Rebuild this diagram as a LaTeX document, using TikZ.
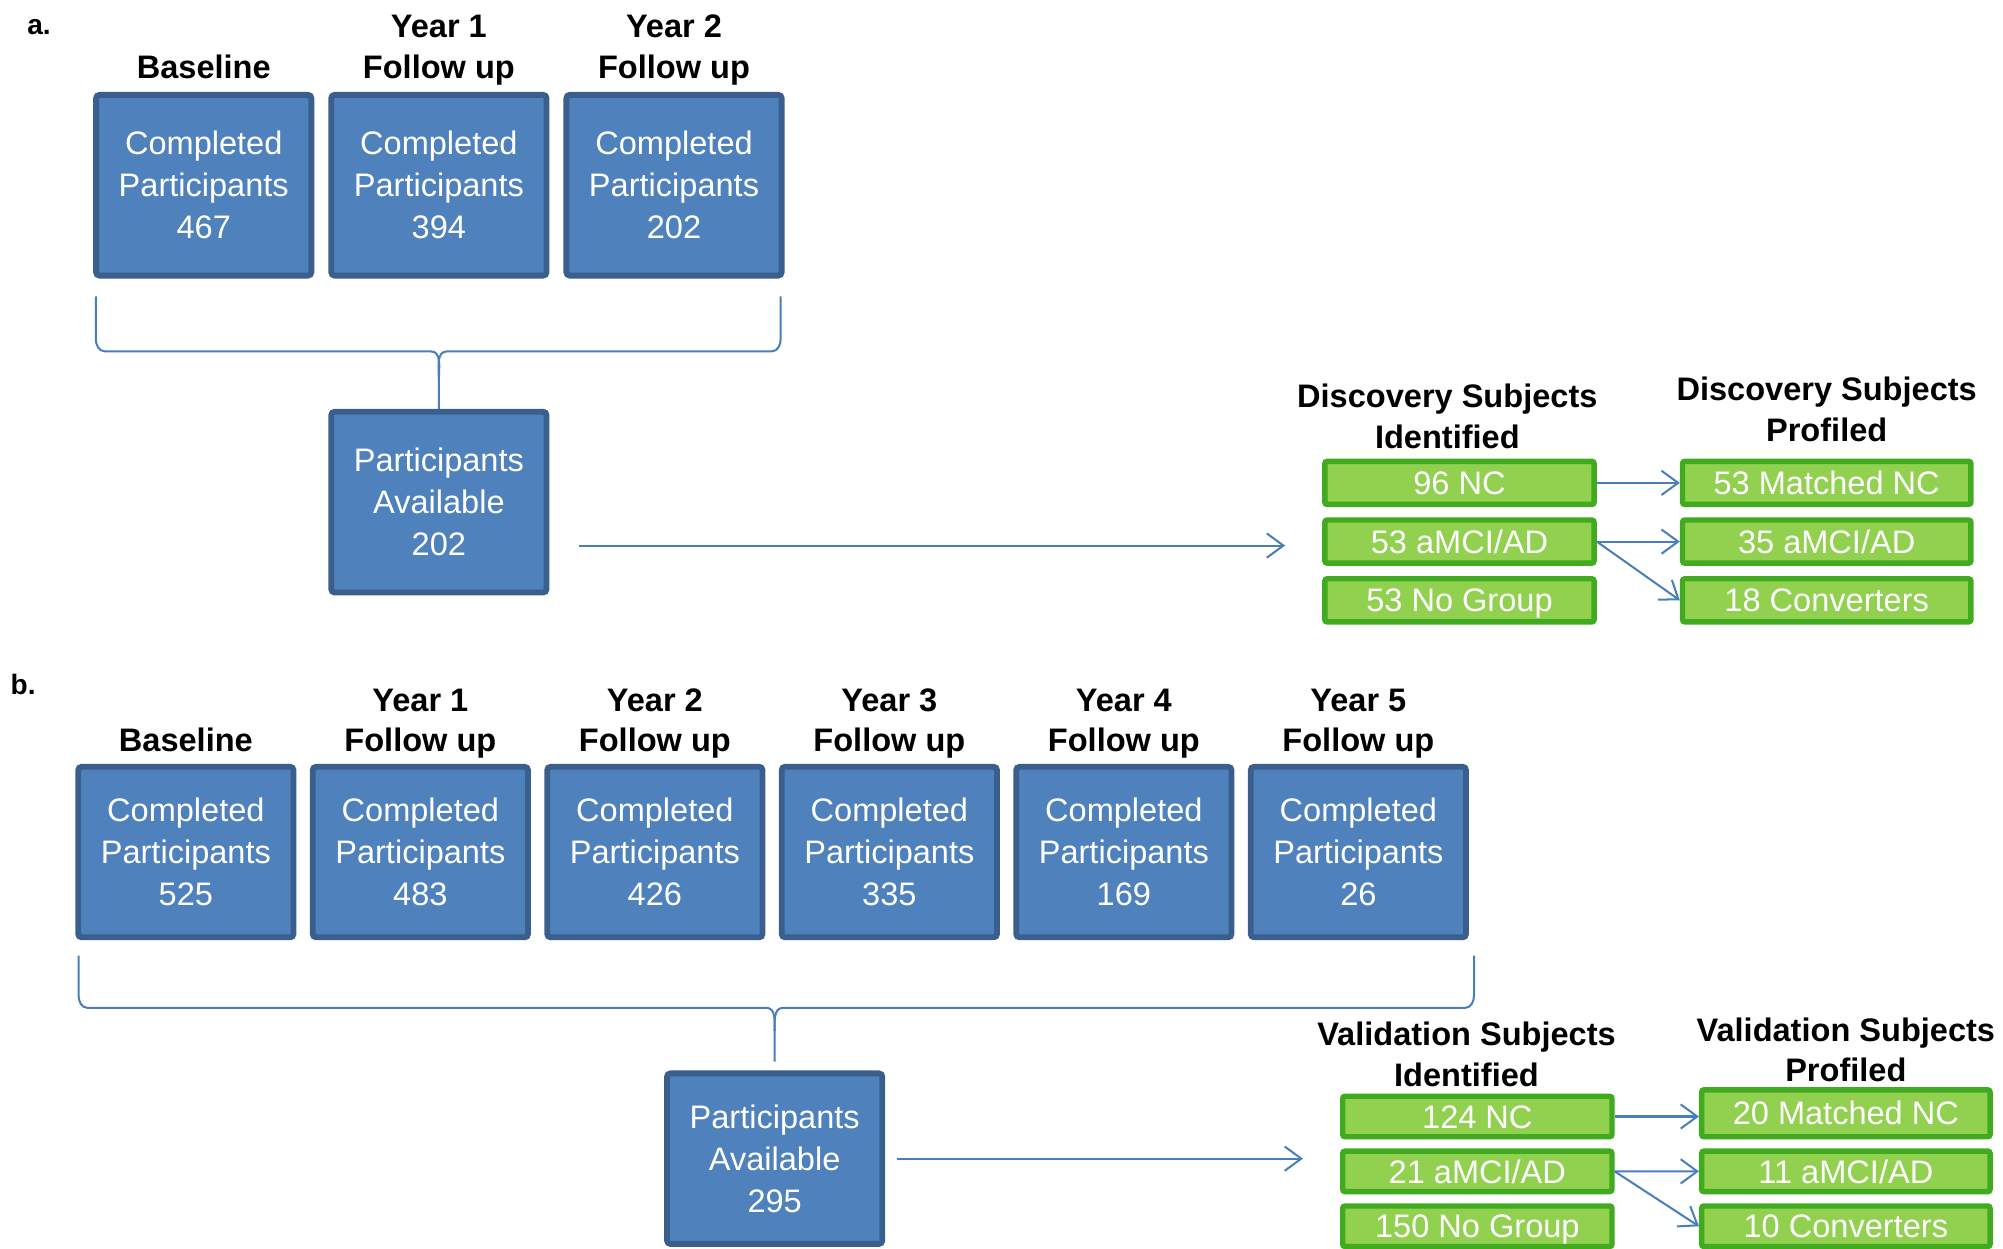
\documentclass[tikz,border=0pt]{standalone}
\usepackage{fontspec}
\setmainfont{Liberation Sans}
\usepackage{tikz}
\usetikzlibrary{arrows.meta}
\usetikzlibrary{calc}
\usetikzlibrary{positioning}
\usepackage{xcolor}
\definecolor{visitblue}{HTML}{4F81BD}
\definecolor{visitedge}{HTML}{3A5F8C}
\definecolor{subjgreen}{HTML}{92D050}
\definecolor{subjedge}{HTML}{40AB1E}
\definecolor{linkblue}{HTML}{4A7EBB}
\tikzset{node distance=0.22cm, every text node part/.style={align=center}}
\tikzstyle{visit} = [draw=visitedge, fill=visitblue, line width=2.6pt, rounded corners=1.5pt, text=white, inner sep=0pt, minimum width=3.37cm, minimum height=2.83cm]
\tikzstyle{subj} = [draw=subjedge, fill=subjgreen, line width=2.4pt, rounded corners=1pt, text=white, inner sep=0pt, text height=10.4pt, text depth=0pt, minimum height=0.675cm]

\begin{document}
\begin{tikzpicture}[
    font=\fontsize{14.5}{18.7}\selectfont,
    head/.style={font=\fontsize{14.5}{18}\selectfont\bfseries, inner sep=0pt, text depth=3.1pt},
    tag/.style={font=\fontsize{12.5}{15}\selectfont\bfseries, inner sep=0pt, anchor=base west},
    visitb/.style={visit, minimum height=2.67cm},
    link/.style={draw=linkblue, line width=0.9pt},
    flow/.style={link, -{Straight Barb[length=0.26cm, width=0.38cm]}}
  ]
  \useasboundingbox (0,0) rectangle (31.36,-19.54);

  % Panel a
  \node[tag] (labA) at (0.42,-0.54) {a.};

  % Define visit blocks
  \node[visit] (baseA) at (3.19,-2.90) {Completed\\Participants\\467};
  \node[visit, right=of baseA] (yearA1) {Completed\\Participants\\394};
  \node[visit, right=of yearA1] (yearA2) {Completed\\Participants\\202};

  \node[head, above=0.1cm of baseA] (headBaseA) {Baseline};
  \node[head, above=0.1cm of yearA1] (headYearA1) {Year 1\\Follow up};
  \node[head, above=0.1cm of yearA2] (headYearA2) {Year 2\\Follow up};

  % Define pooled block
  \node[visit, below=2.04cm of yearA1] (availA) {Participants\\Available\\202};

  % Define subject groups
  \node[subj, minimum width=4.215cm] (idA1) at (22.85,-7.56) {96 NC};
  \node[subj, minimum width=4.215cm, below=0.16cm of idA1] (idA2) {53 aMCI/AD};
  \node[subj, minimum width=4.215cm, below=0.16cm of idA2] (idA3) {53 No Group};
  \node[subj, minimum width=4.515cm, right=1.3cm of idA1] (prA1) {53 Matched NC};
  \node[subj, minimum width=4.515cm, below=0.16cm of prA1] (prA2) {35 aMCI/AD};
  \node[subj, minimum width=4.515cm, below=0.16cm of prA2] (prA3) {18 Converters};

  \node[head, above=0.05cm of idA1, xshift=-0.19cm] (headIdA) {Discovery Subjects\\Identified};
  \node[head, above=0.155cm of prA1] (headPrA) {Discovery Subjects\\Profiled};

  % Draw brace
  \coordinate (braceAl) at ($(baseA.south west)+(0.04,-0.28)$);
  \coordinate (braceAr) at ($(yearA2.south east)+(-0.06,-0.28)$);
  \coordinate (braceAm) at ($(availA.north)+(0,0.9)$);
  \draw[link] (braceAl) -- ($(braceAl |- braceAm)+(0,0.2)$) to[out=-90, in=180] ($(braceAl |- braceAm)+(0.14,0)$)
    -- ($(braceAm)+(-0.13,0)$) to[out=0, in=90] ($(braceAm)+(0,-0.44)$) -- (availA.north);
  \draw[link] (braceAr) -- ($(braceAr |- braceAm)+(0,0.2)$) to[out=-90, in=0] ($(braceAr |- braceAm)+(-0.14,0)$)
    -- ($(braceAm)+(0.13,0)$) to[out=180, in=90] ($(braceAm)+(0,-0.44)$);

  % Draw lines
  \coordinate (outA) at ($(availA.east)+(0,-0.68)$);
  \draw[flow, shorten <=0.46cm, shorten >=0.58cm] (outA) -- (outA -| idA2.west);
  \draw[flow] (idA1) -- (prA1);
  \draw[flow] (idA2.east) -- (prA2.west);
  \draw[flow] (idA2.east) -- (prA3.west);

  % Panel b
  \node[tag] (labB) at (0.16,-10.88) {b.};

  % Define visit blocks
  \node[visitb] (baseB) at (2.91,-13.34) {Completed\\Participants\\525};
  \node[visitb, right=0.21cm of baseB] (yearB1) {Completed\\Participants\\483};
  \node[visitb, right=0.21cm of yearB1] (yearB2) {Completed\\Participants\\426};
  \node[visitb, right=0.21cm of yearB2] (yearB3) {Completed\\Participants\\335};
  \node[visitb, right=0.21cm of yearB3] (yearB4) {Completed\\Participants\\169};
  \node[visitb, right=0.21cm of yearB4] (yearB5) {Completed\\Participants\\26};

  \node[head, above=0.07cm of baseB] (headBaseB) {Baseline};
  \node[head, above=0.07cm of yearB1] (headYearB1) {Year 1\\Follow up};
  \node[head, above=0.07cm of yearB2] (headYearB2) {Year 2\\Follow up};
  \node[head, above=0.07cm of yearB3] (headYearB3) {Year 3\\Follow up};
  \node[head, above=0.07cm of yearB4] (headYearB4) {Year 4\\Follow up};
  \node[head, above=0.07cm of yearB5] (headYearB5) {Year 5\\Follow up};

  % Define pooled block
  \node[visitb] (availB) at ($(yearB2)!0.5!(yearB3)+(0.04,-4.8)$) {Participants\\Available\\295};

  % Define subject groups
  \node[subj, minimum width=4.215cm, minimum height=0.635cm] (idB1) at (23.13,-17.48) {124 NC};
  \node[subj, minimum width=4.215cm, minimum height=0.635cm, below=0.14cm of idB1] (idB2) {21 aMCI/AD};
  \node[subj, minimum width=4.215cm, minimum height=0.635cm, below=0.14cm of idB2] (idB3) {150 No Group};
  \node[subj, minimum width=4.515cm, minimum height=0.735cm, right=1.32cm of idB1, yshift=0.05cm] (prB1) {20 Matched NC};
  \node[subj, minimum width=4.515cm, minimum height=0.635cm, below=0.14cm of prB1] (prB2) {11 aMCI/AD};
  \node[subj, minimum width=4.515cm, minimum height=0.635cm, below=0.14cm of prB2] (prB3) {10 Converters};

  \node[head, above=0cm of idB1, xshift=-0.17cm] (headIdB) {Validation Subjects\\Identified};
  \node[head, above=-0.03cm of prB1] (headPrB) {Validation Subjects\\Profiled};

  % Draw brace
  \coordinate (braceBl) at ($(baseB.south west)+(0.05,-0.24)$);
  \coordinate (braceBr) at ($(yearB5.south east)+(0.08,-0.24)$);
  \coordinate (braceBm) at ($(availB.north)+(0,0.98)$);
  \draw[link, shorten >=0.14cm] (braceBl) -- ($(braceBl |- braceBm)+(0,0.2)$) to[out=-90, in=180] ($(braceBl |- braceBm)+(0.14,0)$)
    -- ($(braceBm)+(-0.13,0)$) to[out=0, in=90] ($(braceBm)+(0,-0.36)$) -- (availB.north);
  \draw[link] (braceBr) -- ($(braceBr |- braceBm)+(0,0.2)$) to[out=-90, in=0] ($(braceBr |- braceBm)+(-0.14,0)$)
    -- ($(braceBm)+(0.13,0)$) to[out=180, in=90] ($(braceBm)+(0,-0.36)$);

  % Draw lines
  \draw[flow, shorten <=0.19cm, shorten >=0.58cm] (availB.east) -- (availB.east -| idB2.west);
  \draw[flow] (idB1.east) -- (idB1.east -| prB1.west);
  \draw[flow] (idB2.east) -- (prB2.west);
  \draw[flow] (idB2.east) -- (prB3.west);

\end{tikzpicture}
\end{document}
